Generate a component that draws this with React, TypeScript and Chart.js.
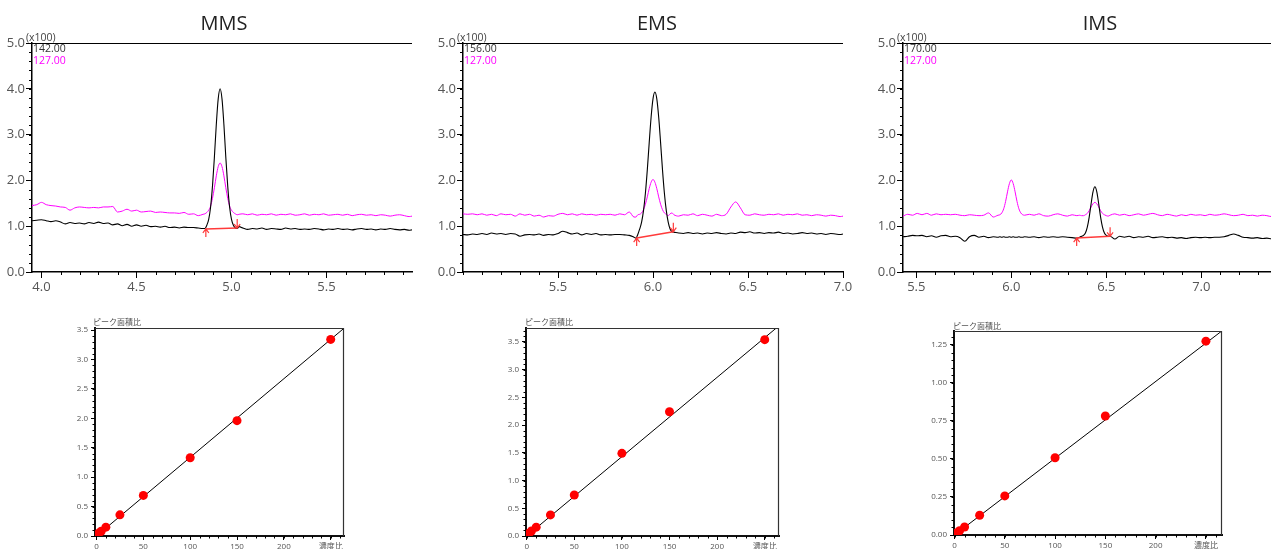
import React, { useEffect, useRef } from 'react';
import { Chart, registerables } from 'chart.js';

Chart.register(...registerables);

// ---------------- chromatogram data (intensity in x100) ----------------
const MMS_T = [
  3.95, 3.975, 4.0, 4.025, 4.05, 4.075, 4.1, 4.125, 4.15, 4.175, 4.2, 4.225, 4.25, 4.275, 4.3, 4.325, 4.35, 4.375, 4.4, 4.425,
  4.45, 4.475, 4.5, 4.525, 4.55, 4.575, 4.6, 4.625, 4.65, 4.675, 4.7, 4.725, 4.75, 4.775, 4.8, 4.825, 4.85,
  4.86, 4.87, 4.88, 4.89, 4.9, 4.91, 4.92, 4.93, 4.94, 4.95, 4.96, 4.97, 4.98, 4.99, 5.0, 5.01, 5.02, 5.03, 5.04,
  5.06, 5.085, 5.11, 5.135, 5.16, 5.185, 5.21, 5.235, 5.26, 5.285, 5.31, 5.335, 5.36, 5.385, 5.41, 5.435, 5.46, 5.485,
  5.51, 5.535, 5.56, 5.585, 5.61, 5.635, 5.66, 5.685, 5.71, 5.735, 5.76, 5.785, 5.81, 5.835, 5.86, 5.885, 5.91, 5.935, 5.95,
];
const MMS_142 = [
  1.12, 1.13, 1.14, 1.12, 1.1, 1.12, 1.09, 1.05, 1.08, 1.06, 1.07, 1.05, 1.08, 1.06, 1.09, 1.06, 1.07, 1.03, 1.05, 1.01,
  1.04, 1.0, 1.03, 1.0, 1.02, 0.99, 1.0, 0.98, 1.0, 0.97, 0.98, 0.96, 0.98, 0.97, 0.97, 0.96, 0.95,
  0.95, 1.02, 1.15, 1.42, 1.88, 2.51, 3.22, 3.78, 4.0, 3.78, 3.22, 2.51, 1.88, 1.42, 1.15, 1.02, 0.96, 0.95, 0.99,
  0.96, 0.93, 0.95, 0.94, 0.96, 0.93, 0.95, 0.94, 0.93, 0.96, 0.94, 0.95, 0.93, 0.94, 0.93, 0.95, 0.94, 0.92,
  0.94, 0.93, 0.95, 0.93, 0.94, 0.92, 0.94, 0.95, 0.93, 0.94, 0.92, 0.94, 0.93, 0.95, 0.93, 0.92, 0.93, 0.91, 0.92,
];
const MMS_127 = [
  1.45, 1.47, 1.52, 1.47, 1.45, 1.44, 1.42, 1.41, 1.35, 1.4, 1.42, 1.41, 1.4, 1.41, 1.4, 1.42, 1.42, 1.43, 1.31, 1.33,
  1.37, 1.33, 1.35, 1.31, 1.32, 1.33, 1.3, 1.31, 1.3, 1.29, 1.29, 1.28, 1.3, 1.26, 1.27, 1.23, 1.26,
  1.27, 1.3, 1.35, 1.44, 1.61, 1.84, 2.1, 2.3, 2.38, 2.3, 2.1, 1.84, 1.61, 1.44, 1.35, 1.3, 1.27, 1.25, 1.26,
  1.27, 1.25, 1.27, 1.24, 1.26, 1.25, 1.27, 1.24, 1.26, 1.25, 1.27, 1.24, 1.25, 1.27, 1.24, 1.26, 1.25, 1.27,
  1.24, 1.25, 1.26, 1.24, 1.26, 1.23, 1.25, 1.26, 1.24, 1.25, 1.23, 1.25, 1.24, 1.22, 1.24, 1.25, 1.23, 1.21, 1.22,
];
const MMS_BASE_T = [4.865, 5.03];
const MMS_BASE_Y = [0.94, 0.96];

const EMS_T = [
  5.0, 5.025, 5.05, 5.075, 5.1, 5.125, 5.15, 5.175, 5.2, 5.225, 5.25, 5.275, 5.3, 5.325, 5.35, 5.375, 5.4, 5.425, 5.45, 5.475,
  5.5, 5.525, 5.55, 5.575, 5.6, 5.625, 5.65, 5.675, 5.7, 5.725, 5.75, 5.775, 5.8, 5.825, 5.85, 5.875, 5.9,
  5.91, 5.92, 5.93, 5.94, 5.95, 5.96, 5.97, 5.98, 5.99, 6.0, 6.01, 6.02, 6.03, 6.04, 6.05, 6.06, 6.07, 6.08, 6.09, 6.1, 6.11,
  6.135, 6.16, 6.185, 6.21, 6.235, 6.26, 6.285, 6.31, 6.335, 6.36, 6.385, 6.41, 6.435, 6.46, 6.485, 6.51, 6.535, 6.56,
  6.585, 6.61, 6.635, 6.66, 6.685, 6.71, 6.735, 6.76, 6.785, 6.81, 6.835, 6.86, 6.885, 6.91, 6.935, 6.96, 6.985, 7.0,
];
const EMS_156 = [
  0.82, 0.81, 0.83, 0.82, 0.84, 0.82, 0.85, 0.83, 0.84, 0.82, 0.84, 0.83, 0.78, 0.81, 0.82, 0.81, 0.83, 0.8, 0.82, 0.81,
  0.84, 0.89, 0.86, 0.83, 0.85, 0.81, 0.84, 0.82, 0.84, 0.81, 0.82, 0.81, 0.82, 0.82, 0.81, 0.8, 0.76,
  0.74, 0.82, 0.94, 1.09, 1.34, 1.72, 2.23, 2.82, 3.38, 3.78, 3.93, 3.78, 3.38, 2.82, 2.23, 1.72, 1.34, 1.09, 0.94, 0.88, 0.87,
  0.85, 0.84, 0.86, 0.84, 0.85, 0.83, 0.85, 0.84, 0.86, 0.84, 0.83, 0.85, 0.84, 0.87, 0.86, 0.88, 0.85, 0.86,
  0.84, 0.86, 0.85, 0.87, 0.84, 0.85, 0.83, 0.84, 0.86, 0.84, 0.85, 0.83, 0.84, 0.82, 0.84, 0.83, 0.82, 0.83,
];
const EMS_127 = [
  1.27, 1.26, 1.27, 1.25, 1.27, 1.24, 1.26, 1.23, 1.27, 1.25, 1.26, 1.22, 1.27, 1.24, 1.26, 1.22, 1.24, 1.2, 1.23, 1.22,
  1.26, 1.28, 1.25, 1.27, 1.24, 1.27, 1.25, 1.26, 1.24, 1.26, 1.25, 1.26, 1.24, 1.27, 1.25, 1.31, 1.2,
  1.2, 1.25, 1.26, 1.29, 1.36, 1.48, 1.64, 1.82, 1.96, 2.02, 1.96, 1.82, 1.64, 1.48, 1.36, 1.29, 1.26, 1.23, 1.27, 1.29, 1.25,
  1.22, 1.25, 1.24, 1.27, 1.23, 1.26, 1.24, 1.22, 1.26, 1.23, 1.26, 1.42, 1.53, 1.4, 1.25, 1.24, 1.27, 1.25,
  1.24, 1.26, 1.25, 1.27, 1.24, 1.26, 1.25, 1.27, 1.24, 1.25, 1.23, 1.25, 1.24, 1.22, 1.24, 1.23, 1.21, 1.22,
];
const EMS_BASE_T = [5.914, 6.107];
const EMS_BASE_Y = [0.74, 0.88];

const IMS_T = [
  5.43, 5.455, 5.48, 5.505, 5.53, 5.555, 5.58, 5.605, 5.63, 5.655, 5.68, 5.705, 5.73, 5.755, 5.78, 5.805, 5.83, 5.855, 5.88, 5.905, 5.93,
  5.94, 5.95, 5.96, 5.97, 5.98, 5.99, 6.0, 6.01, 6.02, 6.03, 6.04, 6.05, 6.06, 6.07,
  6.095, 6.12, 6.145, 6.17, 6.195, 6.22, 6.245, 6.27, 6.295, 6.32, 6.345,
  6.36, 6.37, 6.38, 6.39, 6.4, 6.41, 6.42, 6.43, 6.44, 6.45, 6.46, 6.47, 6.48, 6.49, 6.5, 6.51, 6.52,
  6.545, 6.57, 6.595, 6.62, 6.645, 6.67, 6.695, 6.72, 6.745, 6.77, 6.795, 6.82, 6.845, 6.87, 6.895, 6.92, 6.945, 6.97,
  6.995, 7.02, 7.045, 7.07, 7.095, 7.12, 7.145, 7.17, 7.195, 7.22, 7.245, 7.27, 7.295, 7.32, 7.345, 7.37, 7.395, 7.42, 7.43,
];
const IMS_170 = [
  0.77, 0.78, 0.8, 0.79, 0.8, 0.77, 0.79, 0.76, 0.79, 0.8, 0.77, 0.78, 0.75, 0.67, 0.77, 0.8, 0.76, 0.78, 0.75, 0.77, 0.76,
  0.77, 0.76, 0.77, 0.76, 0.76, 0.77, 0.76, 0.77, 0.76, 0.76, 0.77, 0.76, 0.76, 0.77,
  0.76, 0.77, 0.75, 0.77, 0.76, 0.77, 0.76, 0.77, 0.76, 0.75, 0.74,
  0.76, 0.78, 0.8, 0.85, 0.98, 1.2, 1.49, 1.75, 1.86, 1.75, 1.49, 1.2, 0.98, 0.85, 0.8, 0.78, 0.78,
  0.72, 0.78, 0.76, 0.78, 0.75, 0.77, 0.76, 0.78, 0.75, 0.76, 0.77, 0.75, 0.76, 0.74, 0.75, 0.73, 0.75, 0.76,
  0.75, 0.76, 0.75, 0.76, 0.76, 0.77, 0.8, 0.83, 0.8, 0.76, 0.75, 0.74, 0.75, 0.73, 0.74, 0.72, 0.72, 0.71, 0.71,
];
const IMS_127 = [
  1.22, 1.26, 1.24, 1.28, 1.25, 1.28, 1.24, 1.27, 1.25, 1.26, 1.25, 1.26, 1.24, 1.23, 1.25, 1.24, 1.23, 1.24, 1.29, 1.2, 1.24,
  1.25, 1.29, 1.38, 1.54, 1.75, 1.93, 2.01, 1.93, 1.75, 1.54, 1.38, 1.29, 1.25, 1.24,
  1.26, 1.24, 1.27, 1.23, 1.22, 1.25, 1.27, 1.24, 1.22, 1.25, 1.23,
  1.24, 1.23, 1.23, 1.25, 1.28, 1.34, 1.42, 1.49, 1.52, 1.49, 1.42, 1.34, 1.28, 1.25, 1.23, 1.22, 1.24,
  1.27, 1.24, 1.26, 1.23, 1.25, 1.27, 1.24, 1.26, 1.28, 1.25, 1.23, 1.26, 1.24, 1.22, 1.25, 1.23, 1.26, 1.24,
  1.25, 1.23, 1.26, 1.24, 1.25, 1.27, 1.25, 1.23, 1.24, 1.26, 1.23, 1.24, 1.22, 1.24, 1.23, 1.21, 1.22, 1.2, 1.21,
];
const IMS_BASE_T = [6.344, 6.52];
const IMS_BASE_Y = [0.74, 0.78];

const CHROM_Y_TICKS = [0, 1, 2, 3, 4, 5];
const MMS_X_TICKS = [4.0, 4.5, 5.0, 5.5];
const EMS_X_TICKS = [5.5, 6.0, 6.5, 7.0];
const IMS_X_TICKS = [5.5, 6.0, 6.5, 7.0];

// ---------------- calibration data ----------------
const CONC = [1, 2.5, 5, 10, 25, 50, 100, 150, 250];
const MMS_RATIO = [0.02, 0.05, 0.08, 0.15, 0.36, 0.69, 1.33, 1.96, 3.34];
const EMS_RATIO = [0.03, 0.05, 0.09, 0.16, 0.38, 0.74, 1.49, 2.24, 3.54];
const IMS_RATIO = [0.01, 0.015, 0.028, 0.053, 0.13, 0.257, 0.508, 0.783, 1.275];
const MMS_FIT_X = [0, 264.2];
const MMS_FIT_Y = [0.0, 3.53];
const EMS_FIT_X = [0, 265];
const EMS_FIT_Y = [0.0, 3.79];
const IMS_FIT_X = [0, 266];
const IMS_FIT_Y = [0.0, 1.343];
const CAL_X_TICKS = [0, 50, 100, 150, 200, 250];
const MMS_CAL_Y_TICKS = [0, 0.5, 1.0, 1.5, 2.0, 2.5, 3.0, 3.5];
const EMS_CAL_Y_TICKS = [0, 0.5, 1.0, 1.5, 2.0, 2.5, 3.0, 3.5];
const IMS_CAL_Y_TICKS = [0, 0.25, 0.5, 0.75, 1.0, 1.25];

// ---------------- helpers ----------------
const FONT = '"Open Sans", "Noto Sans CJK JP", sans-serif';
const zip = (xs: number[], ys: number[]) => xs.map((x, i) => ({ x, y: ys[i] }));

function minorTicks(ctx: CanvasRenderingContext2D, scale: any, step: number, len: number, axis: 'x' | 'y', a: any) {
  const k0 = Math.ceil(scale.min / step - 1e-6);
  const k1 = Math.floor(scale.max / step + 1e-6);
  ctx.beginPath();
  for (let k = k0; k <= k1; k++) {
    const p = Math.round(scale.getPixelForValue(k * step)) + 0.5;
    if (axis === 'x') {
      ctx.moveTo(p, a.bottom);
      ctx.lineTo(p, a.bottom + len);
    } else {
      ctx.moveTo(a.left, p);
      ctx.lineTo(a.left - len, p);
    }
  }
  ctx.stroke();
}

type Note = { text: string; dx: number; dy: number; color: string; size: number };

function makeDeco(cfg: {
  box: 'top' | 'full';
  minorX: number;
  minorY: number;
  minorLen: number;
  title?: { text: string; dx: number; dy: number };
  notes: Note[];
  base?: { t: number[]; y: number[] };
}) {
  return {
    id: 'deco',
    afterDraw(chart: any) {
      const { ctx, chartArea: a, scales } = chart;
      ctx.save();
      // frame
      ctx.strokeStyle = cfg.box === 'top' ? '#000' : '#333';
      ctx.lineWidth = 1.2;
      ctx.beginPath();
      ctx.moveTo(a.left, a.top + 0.5);
      ctx.lineTo(a.right, a.top + 0.5);
      if (cfg.box === 'full') {
        ctx.moveTo(a.right - 0.5, a.top);
        ctx.lineTo(a.right - 0.5, a.bottom);
      }
      ctx.stroke();
      // minor ticks
      ctx.strokeStyle = '#000';
      ctx.lineWidth = 1;
      minorTicks(ctx, scales.x, cfg.minorX, cfg.minorLen, 'x', a);
      minorTicks(ctx, scales.y, cfg.minorY, cfg.minorLen, 'y', a);
      // baseline marker
      if (cfg.base) {
        const x0 = scales.x.getPixelForValue(cfg.base.t[0]);
        const y0 = scales.y.getPixelForValue(cfg.base.y[0]);
        const x1 = scales.x.getPixelForValue(cfg.base.t[1]);
        const y1 = scales.y.getPixelForValue(cfg.base.y[1]);
        ctx.strokeStyle = '#ff3a3a';
        ctx.lineWidth = 1.5;
        ctx.beginPath();
        ctx.moveTo(x0, y0);
        ctx.lineTo(x1, y1);
        ctx.stroke();
        ctx.lineWidth = 1.2;
        ctx.beginPath();
        ctx.moveTo(x0, y0 + 8);
        ctx.lineTo(x0, y0);
        ctx.moveTo(x0 - 3, y0 + 4);
        ctx.lineTo(x0, y0);
        ctx.lineTo(x0 + 3, y0 + 4);
        ctx.moveTo(x1, y1 - 9);
        ctx.lineTo(x1, y1);
        ctx.moveTo(x1 - 3, y1 - 4);
        ctx.lineTo(x1, y1);
        ctx.lineTo(x1 + 3, y1 - 4);
        ctx.stroke();
      }
      // texts
      ctx.textBaseline = 'middle';
      if (cfg.title) {
        ctx.font = `20px ${FONT}`;
        ctx.fillStyle = '#222';
        ctx.textAlign = 'center';
        ctx.fillText(cfg.title.text, a.left + cfg.title.dx, a.top + cfg.title.dy);
      }
      ctx.textAlign = 'left';
      for (const n of cfg.notes) {
        ctx.font = `${n.size}px ${FONT}`;
        ctx.fillStyle = n.color;
        ctx.fillText(n.text, a.left + n.dx, a.top + n.dy);
      }
      ctx.restore();
    },
  };
}

function fixTicks(values: number[]) {
  return (s: any) => {
    s.ticks = values.map((v) => ({ value: v }));
  };
}

function chromConfig(p: {
  t: number[];
  black: number[];
  magenta: number[];
  xMin: number;
  xMax: number;
  xTicks: number[];
  yWidth: number;
  padRight: number;
  title: string;
  titleDx: number;
  ionBlack: string;
  ionMagenta: string;
  baseT: number[];
  baseY: number[];
}) {
  const tickFont = { size: 13, family: FONT };
  return {
    type: 'line',
    data: {
      datasets: [
        { data: zip(p.t, p.black), borderColor: '#000', borderWidth: 1.1, pointRadius: 0, cubicInterpolationMode: 'monotone', fill: false },
        { data: zip(p.t, p.magenta), borderColor: '#ff00ff', borderWidth: 1, pointRadius: 0, cubicInterpolationMode: 'monotone', fill: false },
      ],
    },
    options: {
      responsive: false,
      animation: false,
      devicePixelRatio: 1,
      events: [],
      layout: { padding: { top: 43, right: p.padRight, left: 0, bottom: 0 } },
      plugins: { legend: { display: false }, tooltip: { enabled: false }, title: { display: false } },
      scales: {
        x: {
          type: 'linear',
          min: p.xMin,
          max: p.xMax,
          afterBuildTicks: fixTicks(p.xTicks),
          afterFit: (s: any) => {
            s.height = 28;
          },
          border: { display: true, color: '#000', width: 1.5 },
          grid: { drawOnChartArea: false, drawTicks: true, tickLength: 6, color: '#000' },
          ticks: { font: tickFont, color: '#555', padding: 1, maxRotation: 0, autoSkip: false, callback: (v: any) => Number(v).toFixed(1) },
        },
        y: {
          type: 'linear',
          min: 0,
          max: 5,
          afterBuildTicks: fixTicks(CHROM_Y_TICKS),
          afterFit: (s: any) => {
            s.width = p.yWidth;
          },
          border: { display: true, color: '#000', width: 1.5 },
          grid: { drawOnChartArea: false, drawTicks: true, tickLength: 6, color: '#000' },
          ticks: { font: tickFont, color: '#555', padding: 1, autoSkip: false, callback: (v: any) => Number(v).toFixed(1) },
        },
      },
    },
    plugins: [
      makeDeco({
        box: 'top',
        minorX: 0.1,
        minorY: 0.2,
        minorLen: 3,
        title: { text: p.title, dx: p.titleDx, dy: -19 },
        notes: [
          { text: '(x100)', dx: -6, dy: -5, color: '#444', size: 10.5 },
          { text: p.ionBlack, dx: 1, dy: 6, color: '#333', size: 10.5 },
          { text: p.ionMagenta, dx: 1, dy: 18, color: '#ff00ff', size: 10.5 },
        ],
        base: { t: p.baseT, y: p.baseY },
      }),
    ],
  };
}

function calConfig(p: {
  ratio: number[];
  fitX: number[];
  fitY: number[];
  xMin: number;
  xMax: number;
  yMax: number;
  yTicks: number[];
  yDigits: number;
  yMinor: number;
  yWidth: number;
  padRight: number;
  padTop: number;
  xHeight: number;
  titleDx: number;
  titleDy: number;
}) {
  const tickFont = { size: 8, family: FONT };
  return {
    type: 'scatter',
    data: {
      datasets: [
        { data: zip(CONC, p.ratio), backgroundColor: '#ff0000', borderWidth: 0, pointRadius: 4.5, showLine: false },
        { data: zip(p.fitX, p.fitY), borderColor: '#000', borderWidth: 1, pointRadius: 0, showLine: true, fill: false },
      ],
    },
    options: {
      responsive: false,
      animation: false,
      devicePixelRatio: 1,
      events: [],
      layout: { padding: { top: p.padTop, right: p.padRight, left: 0, bottom: 0 } },
      plugins: { legend: { display: false }, tooltip: { enabled: false }, title: { display: false } },
      scales: {
        x: {
          type: 'linear',
          min: p.xMin,
          max: p.xMax,
          afterBuildTicks: fixTicks(CAL_X_TICKS),
          afterFit: (s: any) => {
            s.height = p.xHeight;
          },
          border: { display: true, color: '#111', width: 2 },
          grid: { drawOnChartArea: false, drawTicks: true, tickLength: 4, color: '#000' },
          ticks: {
            font: tickFont,
            color: '#555',
            padding: 2,
            maxRotation: 0,
            autoSkip: false,
            callback: (v: any) => (Number(v) === 250 ? '濃度比' : String(v)),
          },
        },
        y: {
          type: 'linear',
          min: 0,
          max: p.yMax,
          afterBuildTicks: fixTicks(p.yTicks),
          afterFit: (s: any) => {
            s.width = p.yWidth;
          },
          border: { display: true, color: '#111', width: 2 },
          grid: { drawOnChartArea: false, drawTicks: true, tickLength: 4, color: '#000' },
          ticks: { font: tickFont, color: '#555', padding: 3, autoSkip: false, callback: (v: any) => Number(v).toFixed(p.yDigits) },
        },
      },
    },
    plugins: [
      makeDeco({
        box: 'full',
        minorX: 10,
        minorY: p.yMinor,
        minorLen: 2.5,
        notes: [{ text: 'ピーク面積比', dx: p.titleDx, dy: p.titleDy, color: '#555', size: 8 }],
      }),
    ],
  };
}

function ChartBox(props: { left: number; top: number; width: number; height: number; make: () => any }) {
  const ref = useRef<HTMLCanvasElement>(null);
  useEffect(() => {
    const c = new Chart(ref.current as HTMLCanvasElement, props.make());
    return () => c.destroy();
  }, []);
  return (
    <canvas
      ref={ref}
      width={props.width}
      height={props.height}
      style={{ position: 'absolute', left: props.left, top: props.top, width: props.width, height: props.height }}
    />
  );
}

export default function App() {
  return (
    <div style={{ position: 'absolute', left: 0, top: 0, width: 1271, height: 549, overflow: 'hidden', background: '#fff' }}>
      <ChartBox
        left={0}
        top={0}
        width={430}
        height={300}
        make={() =>
          chromConfig({
            t: MMS_T, black: MMS_142, magenta: MMS_127, xMin: 3.95, xMax: 5.95, xTicks: MMS_X_TICKS,
            yWidth: 32, padRight: 18, title: 'MMS', titleDx: 192, ionBlack: '142.00', ionMagenta: '127.00',
            baseT: MMS_BASE_T, baseY: MMS_BASE_Y,
          })
        }
      />
      <ChartBox
        left={430}
        top={0}
        width={430}
        height={300}
        make={() =>
          chromConfig({
            t: EMS_T, black: EMS_156, magenta: EMS_127, xMin: 5.0, xMax: 7.0, xTicks: EMS_X_TICKS,
            yWidth: 33, padRight: 17, title: 'EMS', titleDx: 194, ionBlack: '156.00', ionMagenta: '127.00',
            baseT: EMS_BASE_T, baseY: EMS_BASE_Y,
          })
        }
      />
      <ChartBox
        left={860}
        top={0}
        width={430}
        height={300}
        make={() =>
          chromConfig({
            t: IMS_T, black: IMS_170, magenta: IMS_127, xMin: 5.43, xMax: 7.43, xTicks: IMS_X_TICKS,
            yWidth: 43, padRight: 7, title: 'IMS', titleDx: 197, ionBlack: '170.00', ionMagenta: '127.00',
            baseT: IMS_BASE_T, baseY: IMS_BASE_Y,
          })
        }
      />
      <ChartBox
        left={50}
        top={300}
        width={310}
        height={265}
        make={() =>
          calConfig({
            ratio: MMS_RATIO, fitX: MMS_FIT_X, fitY: MMS_FIT_Y, xMin: -1.6, xMax: 264.2, yMax: 3.534,
            yTicks: MMS_CAL_Y_TICKS, yDigits: 1, yMinor: 0.1, yWidth: 45, padRight: 16, padTop: 28, xHeight: 29,
            titleDx: -2, titleDy: -5,
          })
        }
      />
      <ChartBox
        left={480}
        top={300}
        width={320}
        height={265}
        make={() =>
          calConfig({
            ratio: EMS_RATIO, fitX: EMS_FIT_X, fitY: EMS_FIT_Y, xMin: -0.7, xMax: 265, yMax: 3.75,
            yTicks: EMS_CAL_Y_TICKS, yDigits: 1, yMinor: 0.1, yWidth: 46, padRight: 21, padTop: 28, xHeight: 29,
            titleDx: -1, titleDy: -5,
          })
        }
      />
      <ChartBox
        left={900}
        top={300}
        width={340}
        height={265}
        make={() =>
          calConfig({
            ratio: IMS_RATIO, fitX: IMS_FIT_X, fitY: IMS_FIT_Y, xMin: -0.5, xMax: 266, yMax: 1.342,
            yTicks: IMS_CAL_Y_TICKS, yDigits: 2, yMinor: 0.05, yWidth: 54, padRight: 18, padTop: 31, xHeight: 30,
            titleDx: -1, titleDy: -4,
          })
        }
      />
    </div>
  );
}
